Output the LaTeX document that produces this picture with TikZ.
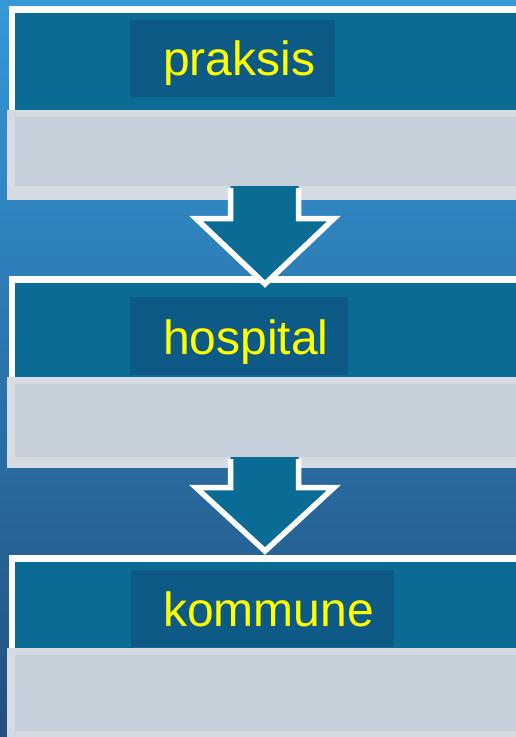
\documentclass[tikz,border=0pt]{standalone}
\usepackage{fontspec}
\setmainfont{Liberation Sans}
\definecolor{bgtop}{HTML}{3599D8}
\definecolor{bgmid}{HTML}{2C82BE}
\definecolor{bgbot}{HTML}{22507F}
\definecolor{panelteal}{HTML}{0A6B95}
\definecolor{labbox}{HTML}{0C5A85}
\definecolor{greylt}{HTML}{D6DBE3}
\definecolor{greyin}{HTML}{C6D0DA}
\definecolor{txtyellow}{HTML}{FFFF00}
\begin{document}
\begin{tikzpicture}[x=1pt,y=-1pt,
  frame/.style={draw=white, line width=6.5pt},
  tealfill/.style={fill=panelteal},
  labelbox/.style={fill=labbox, draw=none, anchor=north west, inner sep=0pt},
  labeltext/.style={anchor=base west, inner sep=0pt, text=txtyellow, font=\fontsize{48}{52}\selectfont},
  arrowfill/.style={fill=panelteal},
  arrowline/.style={draw=white, line width=5.5pt, line join=miter}]
\useasboundingbox (0,0) rectangle (516,737);
\shade[top color=bgtop, middle color=bgmid, bottom color=bgbot] (0,0) rectangle (516,737);

% panel 1
\fill[tealfill] (12,9.5) rectangle (530,112);
\draw[frame] (530,9.5) -- (12,9.5) -- (12,196);
\fill[greylt] (7,110) rectangle (530,200);
\fill[greyin] (15,117) rectangle (530,186);
\node[labelbox, minimum width=205pt, minimum height=77pt] (box1) at (130,20) {};
\node[labeltext] (praksis) at (163,75.5) {praksis};

% panel 2
\fill[tealfill] (12,279.5) rectangle (530,379);
\draw[frame] (530,279.5) -- (12,279.5) -- (12,463);
\fill[greylt] (7,377) rectangle (530,468);
\fill[greyin] (15,384) rectangle (530,457);
\node[labelbox, minimum width=218pt, minimum height=78pt] (box2) at (130,297) {};
\node[labeltext] (hospital) at (163,354.5) {hospital};

% panel 3
\fill[tealfill] (12,558.5) rectangle (530,650);
\draw[frame] (530,558.5) -- (12,558.5) -- (12,740);
\fill[greylt] (7,648) rectangle (530,745);
\fill[greyin] (15,655) rectangle (530,731);
\node[labelbox, minimum width=263pt, minimum height=77pt] (box3) at (131,570) {};
\node[labeltext] (kommune) at (163,626.5) {kommune};

% arrow 1
\fill[arrowfill] (230.5,186) -- (230.5,218.5) -- (196,218.5) -- (265,284) -- (334,218.5) -- (298.5,218.5) -- (298.5,186) -- cycle;
\draw[arrowline] (230.5,188) -- (230.5,218.5) -- (196,218.5) -- (265,284) -- (334,218.5) -- (298.5,218.5) -- (298.5,188);

% arrow 2
\fill[arrowfill] (230.5,457) -- (230.5,487.5) -- (196,487.5) -- (265,551) -- (334,487.5) -- (298.5,487.5) -- (298.5,457) -- cycle;
\draw[arrowline] (230.5,459) -- (230.5,487.5) -- (196,487.5) -- (265,551) -- (334,487.5) -- (298.5,487.5) -- (298.5,459);
\end{tikzpicture}
\end{document}
